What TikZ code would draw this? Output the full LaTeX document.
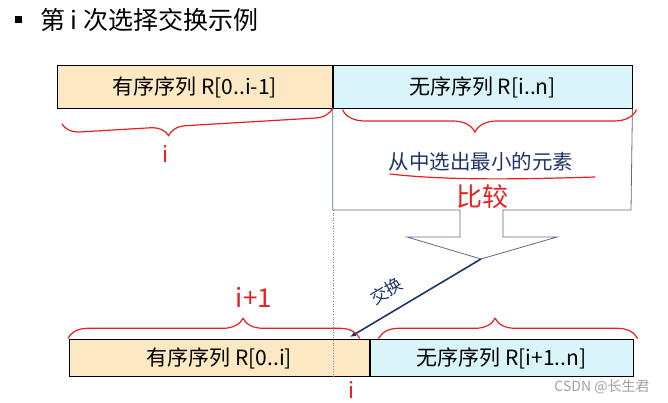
\documentclass[tikz,border=0pt]{standalone}
\usepackage{fontspec}
\usepackage{xcolor}
\usepackage{tikz}
\usetikzlibrary{arrows.meta,positioning,decorations.pathreplacing}
\newfontfamily\cjk{Noto Sans CJK SC}
\definecolor{selyellow}{HTML}{FCE8C2}
\definecolor{selcyan}{HTML}{DAF5FA}
\definecolor{selnavy}{HTML}{1F3468}
\definecolor{selslate}{HTML}{5A6A8C}
\definecolor{selred}{HTML}{E5201E}
\definecolor{selgray}{HTML}{A0A0A0}

\begin{document}
\begin{tikzpicture}[x=1pt, y=1pt,
  seqbox/.style={rectangle, draw=black, line width=0.7pt, inner sep=0pt,
                 font=\cjk\fontsize{21}{23}\selectfont},
  callout/.style={draw=selslate, line width=0.8pt},
  pick/.style={text=selnavy, font=\cjk\fontsize{20.5}{22}\selectfont},
  lbl/.style={text=selnavy, font=\cjk\fontsize{17}{19}\selectfont},
  arr/.style={{Latex[length=6pt,width=5pt]}-, line width=1.6pt, draw=selnavy},
  guide/.style={dotted, draw=gray, line width=0.6pt},
  brc/.style={decorate, draw=selred, line width=1.2pt, line cap=round},
  hand/.style={text=selred, font=\cjk\fontsize{22}{24}\selectfont},
]
  \useasboundingbox (0,0) rectangle (668,403);

  % title
  \node[fill=black, minimum size=7pt, inner sep=0pt] (bullet) at (18,383) {};
  \node[anchor=west, inner sep=0pt, font=\cjk\fontsize{25}{27}\selectfont] (title) at (40,383) {第 i 次选择交换示例};

  % before step i
  \node[seqbox, fill=selyellow, minimum width=275pt, minimum height=43pt, anchor=south west] (sorted) at (57,294) {有序序列 R[0..i-1]};
  \node[seqbox, fill=selcyan, minimum width=299pt, minimum height=43pt, anchor=west] (unsorted) at (sorted.east) {无序序列 R[i..n]};

  % callout below the unsorted part
  \draw[callout] (unsorted.south west) -- ++(0,-101) coordinate (cbl)
    -- (460,193) -- (460,166) -- (407,166) -- (481,144) coordinate (tip)
    -- (557,166) -- (503,166) -- (503,193) -- (631,193) -- (unsorted.south east);
  \node[pick] (minsel) at (481,241) {从中选出最小的元素};

  % after step i
  \node[seqbox, fill=selyellow, minimum width=300pt, minimum height=37pt, anchor=south west] (sorted2) at (69,26) {有序序列 R[0..i]};
  \node[seqbox, fill=selcyan, minimum width=263pt, minimum height=37pt, anchor=west] (unsorted2) at (sorted2.east) {无序序列 R[i+1..n]};

  \draw[guide] ([xshift=1pt]cbl) -- ([xshift=1pt]cbl |- sorted2.south);

  \coordinate (slot) at (350,66);
  \draw[arr] (slot) -- node[lbl, pos=0.36, sloped, above=9pt]{交换} (tip);

  % red notes
  \draw[brc, decoration={brace, amplitude=18pt, aspect=0.61}]
    ([yshift=1pt]sorted.south east) -- ([xshift=5pt,yshift=-15pt]sorted.south west);
  \node[hand] (itop) at (166,249) {i};
  \draw[brc, decoration={brace, amplitude=22pt, aspect=0.55}]
    ([xshift=4pt,yshift=-1pt]unsorted.south east) -- ([xshift=10pt,yshift=-1pt]unsorted.south west);
  \draw[selred, line width=1.2pt, line cap=round] (390,229) .. controls (450,222) and (530,224) .. (595,226);
  \node[hand, font=\cjk\fontsize{26}{28}\selectfont] (cmp) at (482,206) {比较};

  \draw[brc, decoration={brace, amplitude=20pt, aspect=0.6}]
    ([xshift=-1pt,yshift=1pt]sorted2.north west) -- ([xshift=-10pt,yshift=1pt]sorted2.north east);
  \node[hand, font=\cjk\fontsize{26}{28}\selectfont] (inext) at (254,106) {i+1};
  \draw[brc, decoration={brace, amplitude=20pt, aspect=0.45}]
    ([xshift=9pt,yshift=1pt]unsorted2.north west) -- ([xshift=4pt,yshift=1pt]unsorted2.north east);
  \node[hand] (ibot) at (352,13) {i};

  \node[text=selgray, font=\cjk\fontsize{14}{16}\selectfont] (mark) at (602,16) {CSDN @长生君};
\end{tikzpicture}
\end{document}
